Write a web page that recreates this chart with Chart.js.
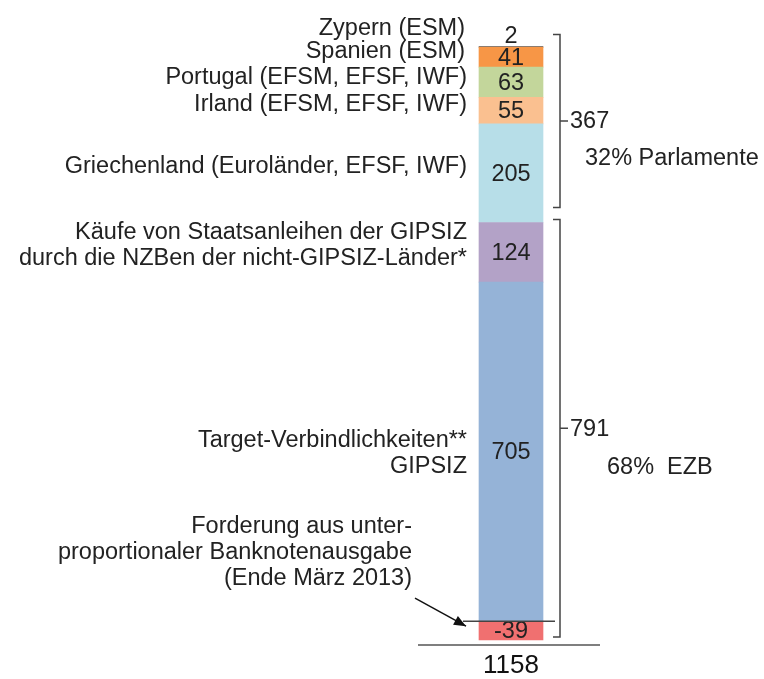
<!DOCTYPE html>
<html>
<head>
<meta charset="utf-8">
<script src="https://cdn.jsdelivr.net/npm/chart.js@4.4.0/dist/chart.umd.min.js"></script>
<style>
html,body{margin:0;padding:0;background:#fff;}
#wrap{width:764px;height:679px;position:relative;}
</style>
</head>
<body>
<div id="wrap"><canvas id="c"></canvas></div>
<script>
// Data (stack order from bottom to top; negative goes below zero)
const categories = ["Summe"];
const seriesNames = [
  "Target-Verbindlichkeiten** GIPSIZ",
  "Käufe von Staatsanleihen der GIPSIZ durch die NZBen der nicht-GIPSIZ-Länder*",
  "Griechenland (Euroländer, EFSF, IWF)",
  "Irland (EFSM, EFSF, IWF)",
  "Portugal (EFSM, EFSF, IWF)",
  "Spanien (ESM)",
  "Zypern (ESM)",
  "Forderung aus unterproportionaler Banknotenausgabe (Ende März 2013)"
];
const seriesValues = [705, 124, 205, 55, 63, 41, 2, -39];
const seriesColors = ["#95B3D7", "#B3A2C7", "#B7DEE8", "#FAC090", "#C3D69B", "#F79646", "#8C7B6E", "#F07070"];
const leftLabels = [
  ["Target-Verbindlichkeiten**", "GIPSIZ"],
  ["Käufe von Staatsanleihen der GIPSIZ", "durch die NZBen der nicht-GIPSIZ-Länder*"],
  ["Griechenland (Euroländer, EFSF, IWF)"],
  ["Irland (EFSM, EFSF, IWF)"],
  ["Portugal (EFSM, EFSF, IWF)"],
  ["Spanien (ESM)"],
  ["Zypern (ESM)"],
  ["Forderung aus unter-", "proportionaler Banknotenausgabe", "(Ende März 2013)"]
];
const groupTotals = [367, 791];
const groupLabels = ["32% Parlamente", "68%  EZB"];
const grandTotal = 1158;

const FONT = '23.5px "Liberation Sans", Arial, sans-serif';
const TXT = '#222';

const annot = {
  id: 'annot',
  afterDatasetsDraw(chart) {
    const ctx = chart.ctx;
    const y = chart.scales.y;
    const meta0 = chart.getDatasetMeta(0).data[0];
    const cx = meta0.x;
    const half = meta0.width / 2;
    const left = cx - half, right = cx + half;
    ctx.save();
    ctx.font = FONT;
    ctx.fillStyle = TXT;
    ctx.textBaseline = 'middle';

    // cumulative positions
    let pos = 0;
    const seg = [];
    seriesValues.forEach((v, i) => {
      if (v >= 0) { seg[i] = [pos, pos + v]; pos += v; }
      else { seg[i] = [v, 0]; }
    });

    // value labels
    ctx.textAlign = 'center';
    seriesValues.forEach((v, i) => {
      const [a, b] = seg[i];
      let py = (y.getPixelForValue(a) + y.getPixelForValue(b)) / 2 + 1;
      if (Math.abs(v) < 10) py = y.getPixelForValue(b) - 10;
      ctx.fillText(String(v), cx, py);
    });

    // left labels
    ctx.textAlign = 'right';
    const labelX = left - 12;
    const lh = 26;
    seriesValues.forEach((v, i) => {
      const lines = leftLabels[i];
      const [a, b] = seg[i];
      let mid = (y.getPixelForValue(a) + y.getPixelForValue(b)) / 2;
      let x = labelX;
      if (i === 6) { mid = y.getPixelForValue(b) - 18; x = left - 14; }  // Zypern
      if (i === 5) { mid = mid - 6; x = left - 14; }                   // Spanien
      if (i === 4) mid = mid - 5;
      if (i === 3) mid = mid - 6;
      if (i === 2) mid = mid - 7;
      if (i === 1) mid = mid - 7;
      if (i === 0) mid = mid + 2;
      if (i === 7) { mid = y.getPixelForValue(0) - 69; x = left - 67; }
      const start = mid - (lines.length - 1) * lh / 2;
      lines.forEach((t, k) => ctx.fillText(t, x, start + k * lh));
    });

    // zero line across bar
    ctx.strokeStyle = '#444';
    ctx.lineWidth = 1.5;
    const y0 = y.getPixelForValue(0);
    ctx.beginPath(); ctx.moveTo(left - 16, y0); ctx.lineTo(right + 12, y0); ctx.stroke();

    // arrow
    const ax0 = left - 64, ay0 = y0 - 23, ax1 = left - 13, ay1 = y0 + 5;
    ctx.lineWidth = 1.5; ctx.strokeStyle = '#111';
    ctx.beginPath(); ctx.moveTo(ax0, ay0); ctx.lineTo(ax1, ay1); ctx.stroke();
    const ang = Math.atan2(ay1 - ay0, ax1 - ax0);
    ctx.fillStyle = '#111';
    ctx.beginPath();
    ctx.moveTo(ax1, ay1);
    ctx.lineTo(ax1 - 12 * Math.cos(ang) + 5 * Math.sin(ang), ay1 - 12 * Math.sin(ang) - 5 * Math.cos(ang));
    ctx.lineTo(ax1 - 12 * Math.cos(ang) - 5 * Math.sin(ang), ay1 - 12 * Math.sin(ang) + 5 * Math.cos(ang));
    ctx.closePath(); ctx.fill();

    // brackets
    ctx.strokeStyle = '#444'; ctx.lineWidth = 1.5;
    const bx = right + 17;
    function bracket(top, bottom, total, label, lblDx, lblDy) {
      const mid = (top + bottom) / 2;
      ctx.beginPath();
      ctx.moveTo(bx - 7, top); ctx.lineTo(bx, top); ctx.lineTo(bx, bottom); ctx.lineTo(bx - 7, bottom);
      ctx.moveTo(bx, mid); ctx.lineTo(bx + 8, mid);
      ctx.stroke();
      ctx.fillStyle = TXT; ctx.textAlign = 'left';
      ctx.fillText(String(total), bx + 10, mid + 1);
      ctx.fillText(label, bx + lblDx, mid + lblDy);
    }
    const topGroupTop = y.getPixelForValue(seg[6][1]) - 12;
    const topGroupBottom = y.getPixelForValue(seg[2][0]) - 15;
    bracket(topGroupTop, topGroupBottom, groupTotals[0], groupLabels[0], 25, 38);
    const botTop = y.getPixelForValue(seg[1][1]) - 3;
    const botBottom = y.getPixelForValue(seg[7][0]) - 3;
    bracket(botTop, botBottom, groupTotals[1], groupLabels[1], 47, 39);

    // total line and value
    const yb = y.getPixelForValue(seg[7][0]) + 5;
    ctx.strokeStyle = '#555'; ctx.lineWidth = 1.5;
    ctx.beginPath(); ctx.moveTo(left - 61, yb); ctx.lineTo(right + 57, yb); ctx.stroke();
    ctx.fillStyle = '#111'; ctx.textAlign = 'center';
    ctx.font = '26px "Liberation Sans", Arial, sans-serif';
    ctx.fillText(String(grandTotal), cx, yb + 21);
    ctx.restore();
  }
};

new Chart(document.getElementById('c'), {
  type: 'bar',
  data: {
    labels: categories,
    datasets: seriesValues.map((v, i) => ({
      label: seriesNames[i],
      data: [v],
      backgroundColor: seriesColors[i],
      borderWidth: 0,
      barThickness: 64,
      stack: 's'
    }))
  },
  options: {
    responsive: true,
    maintainAspectRatio: false,
    animation: false,
    layout: { padding: { left: 400, right: 142, top: 20, bottom: 29 } },
    plugins: { legend: { display: false }, tooltip: { enabled: false } },
    scales: {
      x: { display: false, stacked: true },
      y: { display: false, stacked: true, min: -60, max: 1250 }
    }
  },
  plugins: [annot]
});
</script>
</body>
</html>
